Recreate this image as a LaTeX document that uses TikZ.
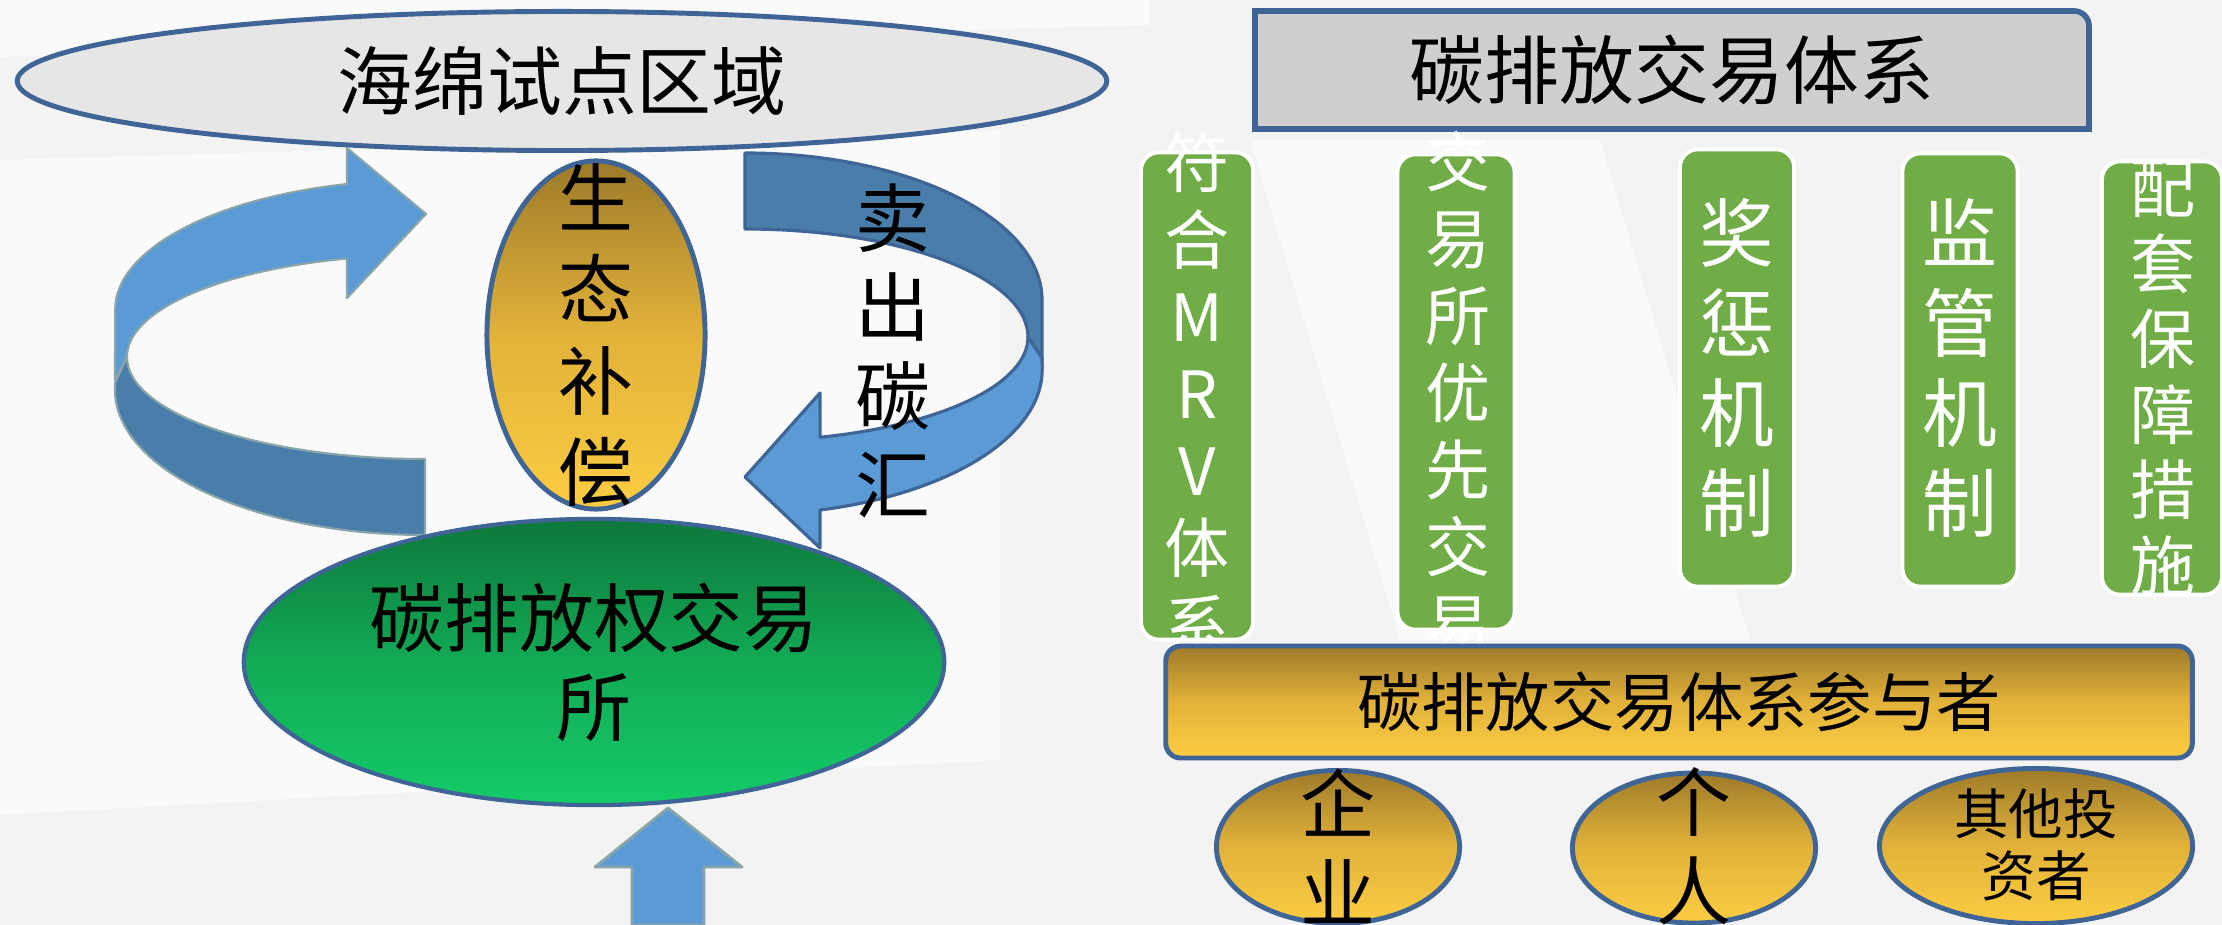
\documentclass[tikz,border=0pt]{standalone}
\usepackage{fontspec}
\setmainfont{Noto Sans CJK SC}
\usetikzlibrary{shapes}
\definecolor{paper}{RGB}{243,243,243}
\definecolor{paperLight}{RGB}{250,250,250}
\definecolor{edgeBlue}{RGB}{63,100,150}
\definecolor{zoneGray}{RGB}{230,230,230}
\definecolor{boxGray}{RGB}{208,206,206}
\definecolor{goldTop}{RGB}{158,123,42}
\definecolor{goldMid}{RGB}{226,178,58}
\definecolor{goldBottom}{RGB}{252,205,65}
\definecolor{greenTop}{RGB}{13,120,60}
\definecolor{greenMid}{RGB}{18,170,85}
\definecolor{greenBottom}{RGB}{20,204,104}
\definecolor{barGreen}{RGB}{112,173,71}
\definecolor{bandLight}{RGB}{91,155,213}
\definecolor{bandDark}{RGB}{73,125,170}
\definecolor{bandEdge}{RGB}{138,165,170}

\begin{document}
\begin{tikzpicture}[x=0.01cm, y=-0.01cm]
	\tikzstyle{ringStyle}=[shape = ellipse, draw = edgeBlue, line width = 1.4pt, inner sep = 0pt, align = center]
	\tikzstyle{goldStyle}=[ringStyle, top color = goldTop, bottom color = goldBottom, middle color = goldMid]
	\tikzstyle{barStyle}=[shape = rectangle, rounded corners = 0.18cm, draw = white, line width = 1.1pt, fill = barGreen, inner sep = 0pt]
	\tikzstyle{wordStyle}=[align = center, inner sep = 0pt, font = \fontsize{21.3pt}{25.3pt}\selectfont]
	\tikzstyle{barWords}=[wordStyle, text = white, font = \fontsize{18.5pt}{21.9pt}\selectfont]
	\tikzstyle{frontBand}=[fill = bandLight, draw = bandEdge, line width = 0.6pt, line join = round]
	\tikzstyle{backBand}=[fill = bandDark, draw = bandEdge, line width = 0.6pt, line join = round]
	\tikzstyle{frontBandR}=[fill = bandLight, draw = edgeBlue, line width = 0.9pt, line join = round]
	\tikzstyle{backBandR}=[fill = bandDark, draw = edgeBlue, line width = 0.9pt, line join = round]
	\useasboundingbox (0,0) rectangle (2222,925);
	\fill[paper] (0,0) rectangle (2222,925);
	\fill[paperLight] (0,0) -- (1150,0) -- (1150,25) -- (0,57) -- cycle;
	\fill[paperLight] (0,160) -- (1000,130) -- (1000,760) -- (0,815) -- cycle;
	\fill[paperLight] (1250,140) -- (1600,140) -- (1750,640) -- (1400,640) -- cycle;

	\filldraw[backBand] (127,357) arc[start angle = 180, end angle = 90, x radius = 298, y radius = 102] -- (425,535) arc[start angle = 90, end angle = 180, x radius = 310, y radius = 145] -- (115,383) -- cycle;
	\filldraw[frontBand] (347,184) arc[start angle = 255.4, end angle = 180, x radius = 310, y radius = 130] -- (115,380) -- (127,357) arc[start angle = 180, end angle = 254.8, x radius = 298, y radius = 102] -- (347,298) -- (426,214) -- (347,148) -- cycle;
	\filldraw[backBandR] (745,153) arc[start angle = 270, end angle = 360, x radius = 297, y radius = 147] -- (1042,370) -- (1028,337) arc[start angle = 0, end angle = -90, x radius = 283, y radius = 108] -- cycle;
	\filldraw[frontBandR] (1028,337) arc[start angle = 0, end angle = 74.6, x radius = 283, y radius = 104] -- (820,393) -- (745,477) -- (820,548) -- (820,510) arc[start angle = 75.4, end angle = 0, x radius = 297, y radius = 145] -- (1042,358) -- cycle;
	\filldraw[frontBand, line width = 0.8pt] (632,925) -- (632,867) -- (595,867) -- (668,808) -- (742,867) -- (704,867) -- (704,925) -- cycle;

	\node[ringStyle, fill = zoneGray, minimum width = 10.89cm, minimum height = 1.39cm, font = \fontsize{21.3pt}{25.3pt}\selectfont] (zone) at (562,81) {海绵试点区域};
	\node[goldStyle, minimum width = 2.18cm, minimum height = 3.48cm] (eco) at (596,335) {};
	\node[wordStyle, font = \fontsize{21.3pt}{25.9pt}\selectfont] (ecoText) at (eco) {生\\态\\补\\偿};
	\node[wordStyle] (sellText) at (893,351) {卖\\出\\碳\\汇};
	\node[ringStyle, line width = 1.2pt, top color = greenTop, bottom color = greenBottom, middle color = greenMid, minimum width = 7cm, minimum height = 2.86cm, font = \fontsize{21.3pt}{25.3pt}\selectfont] (market) at (594,662) {碳排放权交易\\所};

	\filldraw[fill = boxGray, draw = edgeBlue, line width = 1.6pt] (1255,129) -- (1255,11) -- (2074,11) arc[start angle = 270, end angle = 360, radius = 15] -- (2089,129) -- cycle;
	\node[wordStyle] (sys) at (1672,70) {碳排放交易体系};

	\node[barStyle, minimum width = 1.12cm, minimum height = 4.87cm] (mrv) at (1197,396) {};
	\node[barWords] (mrvText) at (1197,393) {符\\合\\M\\R\\V\\体\\系};
	\node[barStyle, minimum width = 1.17cm, minimum height = 4.75cm] (exch) at (1456,392) {};
	\node[barWords] (exchText) at (1458,393) {交\\易\\所\\优\\先\\交\\易};
	\node[barStyle, minimum width = 1.14cm, minimum height = 4.37cm] (reward) at (1737,368) {};
	\node[wordStyle, text = white, font = \fontsize{21.3pt}{25.6pt}\selectfont] (rewardText) at (reward) {奖\\惩\\机\\制};
	\node[barStyle, minimum width = 1.15cm, minimum height = 4.33cm] (watch) at (1960,370) {};
	\node[wordStyle, text = white, font = \fontsize{21.3pt}{25.6pt}\selectfont] (watchText) at (1960,368) {监\\管\\机\\制};
	\node[barStyle, minimum width = 1.20cm, minimum height = 4.33cm] (support) at (2162,378) {};
	\node[barWords, font = \fontsize{18.5pt}{21.45pt}\selectfont] (supportText) at (2163,378) {配\\套\\保\\障\\措\\施};

	\node[shape = rectangle, rounded corners = 0.15cm, draw = edgeBlue, line width = 1.4pt, top color = goldTop, bottom color = goldBottom, middle color = goldMid, minimum width = 10.26cm, minimum height = 1.12cm, font = \fontsize{18.3pt}{22pt}\selectfont] (crowd) at (1679,702) {碳排放交易体系参与者};

	\node[goldStyle, minimum width = 2.43cm, minimum height = 1.53cm] (firm) at (1338,847) {};
	\node[wordStyle] (firmText) at (1338,846) {企\\业};
	\node[goldStyle, minimum width = 2.43cm, minimum height = 1.50cm] (person) at (1694,848) {};
	\node[wordStyle] (personText) at (1694,846) {个\\人};
	\node[goldStyle, minimum width = 3.13cm, minimum height = 1.55cm] (investor) at (2036,846) {};
	\node[wordStyle, font = \fontsize{15.5pt}{17.6pt}\selectfont] (investorText) at (2036,845) {其他投\\资者};
\end{tikzpicture}
\end{document}
